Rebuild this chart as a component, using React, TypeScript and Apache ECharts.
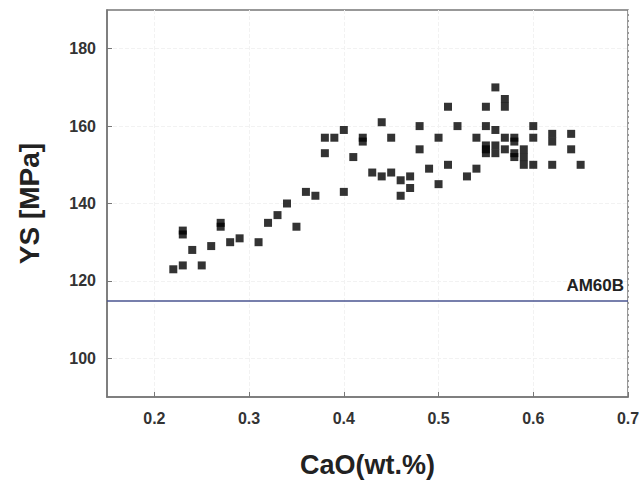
import React, { useEffect, useRef } from "react";
import * as echarts from "echarts";

const xTicks = [0.2, 0.3, 0.4, 0.5, 0.6, 0.7];
const yTicks = [100, 120, 140, 160, 180];
const referenceName = "AM60B";
const referenceYS = 115;

const caoValues = [
  0.22, 0.23, 0.23, 0.23, 0.24, 0.25, 0.26, 0.27, 0.27, 0.28, 0.29, 0.31,
  0.32, 0.33, 0.34, 0.35, 0.36, 0.37, 0.38, 0.38, 0.39, 0.4, 0.4, 0.41,
  0.42, 0.42, 0.43, 0.44, 0.44, 0.45, 0.45, 0.46, 0.46, 0.47, 0.47, 0.48,
  0.48, 0.49, 0.5, 0.5, 0.51, 0.51, 0.52, 0.53, 0.54, 0.54, 0.55, 0.55,
  0.55, 0.55, 0.55, 0.56, 0.56, 0.56, 0.56, 0.57, 0.57, 0.57, 0.57, 0.58,
  0.58, 0.58, 0.58, 0.59, 0.59, 0.59, 0.6, 0.6, 0.6, 0.62, 0.62, 0.62,
  0.64, 0.64, 0.65,
];
const ysValues = [
  123, 124, 132, 133, 128, 124, 129, 135, 134, 130, 131, 130,
  135, 137, 140, 134, 143, 142, 157, 153, 157, 159, 143, 152,
  157, 156, 148, 161, 147, 157, 148, 146, 142, 147, 144, 160,
  154, 149, 157, 145, 165, 150, 160, 147, 157, 149, 165, 160,
  155, 154, 153, 170, 159, 155, 153, 167, 165, 157, 154, 157,
  156, 153, 152, 154, 152, 150, 160, 157, 150, 158, 156, 150,
  158, 154, 150,
];

export default function App() {
  const ref = useRef<HTMLDivElement>(null);
  useEffect(() => {
    if (!ref.current) return;
    const chart = echarts.init(ref.current, undefined, { renderer: "svg" });
    const font = "Liberation Sans, Arial, sans-serif";
    chart.setOption({
      animation: false,
      backgroundColor: "#ffffff",
      grid: {
        left: 107, right: 15, top: 10, bottom: 87,
        outerBoundsMode: "none",
        show: true, borderColor: "#777", borderWidth: 1.5, backgroundColor: "transparent",
      },
      xAxis: {
        type: "value",
        min: 0.15,
        max: 0.7,
        interval: 0.05,
        name: "CaO(wt.%)",
        nameLocation: "middle",
        nameGap: 54,
        nameTextStyle: { fontFamily: font, fontWeight: "bold", fontSize: 27, color: "#222" },
        axisLine: { show: true, lineStyle: { color: "#777", width: 1.5 } },
        axisTick: { show: true, inside: true, length: 5, lineStyle: { color: "#777" }, customValues: xTicks },
        axisLabel: {
          fontFamily: font, fontWeight: "bold", fontSize: 16, color: "#333", margin: 13,
          customValues: xTicks,
          formatter: (v: number) => v.toFixed(1),
        },
        splitLine: { show: true, lineStyle: { color: "#f2f2f2", type: "dashed", width: 1 } },
      },
      yAxis: {
        type: "value",
        min: 90,
        max: 190,
        interval: 10,
        name: "YS [MPa]",
        nameLocation: "middle",
        nameGap: 64,
        nameTextStyle: { fontFamily: font, fontWeight: "bold", fontSize: 28, color: "#222" },
        axisLine: { show: true, lineStyle: { color: "#777", width: 1.5 } },
        axisTick: { show: true, inside: true, length: 5, lineStyle: { color: "#777" }, customValues: yTicks },
        axisLabel: {
          fontFamily: font, fontWeight: "bold", fontSize: 16, color: "#333", margin: 11,
          customValues: yTicks,
        },
        splitLine: { show: true, lineStyle: { color: "#f2f2f2", type: "dashed", width: 1 } },
      },
      series: [
        {
          type: "scatter",
          symbol: "rect",
          symbolSize: 8,
          itemStyle: { color: "#000" },
          data: caoValues.map((x, i) => [x, ysValues[i]]),
          markLine: {
            silent: true,
            symbol: "none",
            lineStyle: { color: "#4a5590", width: 1.5, type: "solid" },
            label: {
              show: true,
              position: "insideEndTop",
              formatter: referenceName,
              fontFamily: font,
              fontWeight: "bold",
              fontSize: 17,
              color: "#222",
              distance: [4, 6],
            },
            data: [{ yAxis: referenceYS }],
          },
        },
      ],
    });
    return () => chart.dispose();
  }, []);
  return <div ref={ref} style={{ position: "fixed", left: 0, top: 0, width: 643, height: 484 }} />;
}
